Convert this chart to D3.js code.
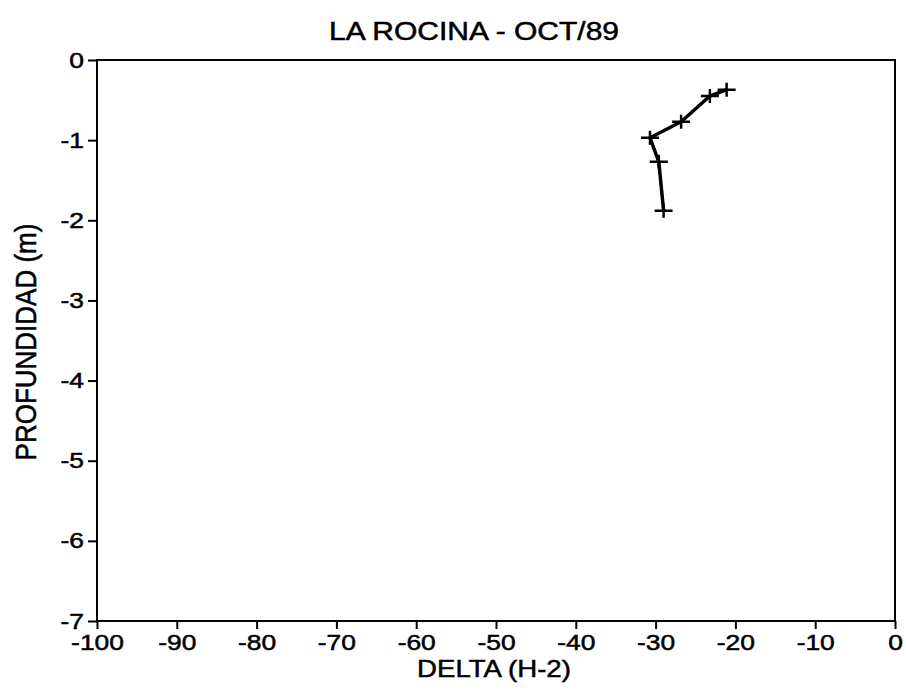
<!DOCTYPE html>
<html>
<head>
<meta charset="utf-8">
<script src="https://cdn.jsdelivr.net/npm/d3@7"></script>
<style>
  html, body { margin: 0; padding: 0; background: #fff; }
  svg { display: block; }
  text { font-family: "Liberation Sans", Arial, Helvetica, sans-serif; fill: #000; stroke: #000; stroke-width: 0.5; }
</style>
</head>
<body>
<svg id="chart" width="906" height="695"></svg>
<script>
// Isotope profile, La Rocina, October 1989
const delta = [-21.1, -23.2, -26.8, -30.7, -29.6, -29.0];
const depth = [-0.37, -0.45, -0.77, -0.97, -1.27, -1.88];
const xTicks = [-100, -90, -80, -70, -60, -50, -40, -30, -20, -10, 0];
const yTicks = [0, -1, -2, -3, -4, -5, -6, -7];

const title = "LA ROCINA - OCT/89";
const xTitle = "DELTA (H-2)";
const yTitle = "PROFUNDIDAD (m)";

const svg = d3.select("#chart");
const m = { left: 97, right: 11, top: 60, bottom: 74 };
const W = 906, H = 695;
const stretch = 1.2; // glyphs are drawn wide

const x = d3.scaleLinear().domain([-100, 0]).range([m.left, W - m.right]);
const y = d3.scaleLinear().domain([-7, 0]).range([H - m.bottom, m.top]);

// frame
svg.append("rect")
  .attr("x", x(-100)).attr("y", y(0))
  .attr("width", x(0) - x(-100)).attr("height", y(-7) - y(0))
  .attr("fill", "none").attr("stroke", "#000").attr("stroke-width", 2);

function widen(sel) {
  sel.each(function () {
    const t = d3.select(this);
    const tx = +(t.attr("x") || 0);
    t.attr("transform", `scale(${stretch},1)`).attr("x", tx / stretch);
  });
}

// x axis
const gx = svg.append("g").attr("transform", `translate(0,${y(-7)})`)
  .call(d3.axisBottom(x).tickValues(xTicks).tickSize(8).tickPadding(5).tickFormat(d3.format("d")));
gx.select(".domain").remove();
gx.selectAll("line").attr("stroke-width", 2);
gx.selectAll("text").attr("font-size", 22).call(widen);

// y axis
const gy = svg.append("g").attr("transform", `translate(${x(-100)},0)`)
  .call(d3.axisLeft(y).tickValues(yTicks).tickSize(9).tickPadding(4).tickFormat(d3.format("d")));
gy.select(".domain").remove();
gy.selectAll("line").attr("stroke-width", 2);
gy.selectAll("text").attr("font-size", 22).call(widen);

// plain hyphen for negatives
svg.selectAll(".tick text").text(function () { return d3.select(this).text().replace("\u2212", "-"); });

// titles
function wideText(px, py, str, size, sx, rotate) {
  const g = svg.append("g")
    .attr("transform", rotate
      ? `translate(${px},${py}) scale(${sx},1) rotate(-90)`
      : `translate(${px},${py}) scale(${sx},1)`);
  g.append("text").attr("text-anchor", "middle").attr("font-size", size).text(str);
}
wideText(474, 40, title, 25, stretch, false);
wideText(494, 677, xTitle, 23, stretch, false);
wideText(36, 342, yTitle, 26, 1.1, true);

// profile line
const pts = delta.map((d, i) => [d, depth[i]]);
svg.append("path")
  .datum(pts)
  .attr("fill", "none").attr("stroke", "#000").attr("stroke-width", 3.5)
  .attr("stroke-linejoin", "round")
  .attr("d", d3.line().x(d => x(d[0])).y(d => y(d[1])));

// plus markers
svg.append("g").selectAll("path.mk")
  .data(pts).join("path")
  .attr("class", "mk")
  .attr("fill", "none").attr("stroke", "#000").attr("stroke-width", 2.5)
  .attr("d", d => {
    const cx = x(d[0]), cy = y(d[1]);
    return `M${cx - 9},${cy}H${cx + 9}M${cx},${cy - 7}V${cy + 7}`;
  });
</script>
</body>
</html>
